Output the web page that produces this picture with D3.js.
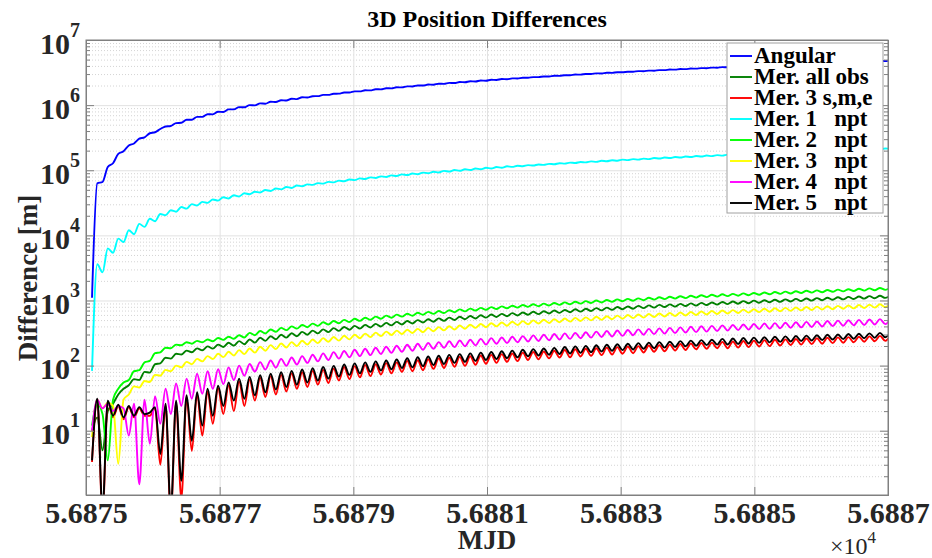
<!DOCTYPE html>
<html>
<head>
<meta charset="utf-8">
<title>3D Position Differences</title>
<style>

body {
  margin: 0;
  background: #fff;
}

svg, text {
  font-family: "Liberation Serif", "Times New Roman", serif;
  font-weight: bold;
}

.grid line {
  stroke: #e2e2e2;
}

.grid.minor line {
  stroke: #d4d4d4;
  stroke-dasharray: 1,2;
}

.axis line,
.axis path {
  stroke: #808080;
}

.series {
  fill: none;
  stroke-width: 1.9;
}

.legend text {
  white-space: pre;
}

</style>
<script src="https://d3js.org/d3.v7.min.js"></script>
</head>
<body>
<svg id="chart"></svg>
<script>

// sample times: one point every half oscillation
var mjdStart = 56875.09,
    mjdStep = 0.0786;

var angular = [1.1e3, 63e3, 66e3, 112e3, 128e3, 178e3, 196e3, 240e3, 258e3, 305e3,
  320e3, 370e3, 383e3, 430e3, 470e3, 478e3, 530e3, 535e3, 595e3, 597e3,
  660e3, 660e3, 725e3, 722e3, 790e3, 785e3, 860e3, 860e3, 930e3, 926e3,
  999e3, 990e3, 1063e3, 1052e3, 1127e3, 1114e3, 1191e3, 1175e3, 1255e3, 1237e3,
  1319e3, 1312e3, 1370e3, 1374e3, 1434e3, 1436e3, 1497e3, 1499e3, 1561e3, 1561e3,
  1624e3, 1623e3, 1688e3, 1685e3, 1751e3, 1748e3, 1815e3, 1810e3, 1878e3, 1872e3,
  1942e3, 1934e3, 2005e3, 1997e3, 2069e3, 2059e3, 2132e3, 2121e3, 2196e3, 2183e3,
  2259e3, 2246e3, 2323e3, 2308e3, 2386e3, 2370e3, 2450e3, 2432e3, 2513e3, 2495e3,
  2577e3, 2567e3, 2630e3, 2630e3, 2693e3, 2692e3, 2756e3, 2755e3, 2820e3, 2817e3,
  2883e3, 2880e3, 2946e3, 2942e3, 3009e3, 3005e3, 3073e3, 3067e3, 3136e3, 3130e3,
  3199e3, 3192e3, 3262e3, 3255e3, 3326e3, 3317e3, 3389e3, 3380e3, 3452e3, 3442e3,
  3515e3, 3505e3, 3579e3, 3567e3, 3642e3, 3630e3, 3705e3, 3692e3, 3768e3, 3755e3,
  3832e3, 3817e3, 3895e3, 3880e3, 3958e3, 3942e3, 4021e3, 4005e3, 4085e3, 4067e3,
  4148e3, 4130e3, 4211e3, 4192e3, 4274e3, 4255e3, 4338e3, 4317e3, 4401e3, 4380e3,
  4464e3, 4442e3, 4527e3, 4505e3, 4591e3, 4567e3, 4654e3, 4630e3, 4717e3, 4692e3,
  4781e3, 4755e3, 4844e3];

var merAllObs = [10, 16, 5, 20, 26, 36, 44, 50, 62, 60,
  80, 78, 105, 108, 132, 128, 152, 148, 170, 160,
  184, 172, 197, 182, 210, 193, 224, 203, 238, 213,
  252, 225, 268, 240, 283, 254, 298, 269, 314, 283,
  329, 298, 345, 312, 360, 327, 376, 341, 391, 356,
  407, 370, 422, 385, 438, 399, 453, 414, 469, 428,
  484, 443, 500, 458, 515, 472, 531, 487, 546, 501,
  562, 516, 577, 530, 593, 545, 608, 559, 623, 574,
  639, 588, 654, 603, 670, 617, 685, 632, 701, 646,
  716, 661, 732, 675, 747, 690, 763, 704, 778, 719,
  794, 733, 809, 748, 825, 762, 840, 777, 856, 792,
  871, 806, 887, 821, 902, 835, 918, 850, 933, 864,
  948, 879, 964, 893, 979, 908, 995, 922, 1010, 937,
  1026, 951, 1041, 966, 1057, 980, 1072, 995, 1088, 1009,
  1103, 1024, 1119, 1038, 1134, 1053, 1150, 1068, 1165, 1082,
  1181, 1097, 1196];

var mer3sme = [3.3, 30, 0.5, 28, 16, 24, 15, 23, 16, 22,
  17, 17, 22, 3, 24, 0.5, 27, 0.9, 32, 4.9,
  36, 8.4, 40, 12.8, 45, 18, 50, 20, 57, 24,
  61, 29, 65, 33, 69, 36, 72, 40, 76, 44,
  79, 47, 83, 51, 86, 54, 90, 59, 95, 62,
  98, 66, 102, 69, 105, 73, 109, 76, 112, 80,
  118, 82, 121, 85, 125, 89, 129, 92, 132, 96,
  136, 99, 139, 103, 143, 107, 146, 110, 150, 114,
  153, 117, 158, 122, 162, 125, 165, 129, 169, 133,
  174, 134, 178, 138, 181, 141, 185, 145, 189, 148,
  192, 152, 196, 155, 199, 159, 203, 163, 206, 166,
  210, 170, 215, 174, 218, 178, 222, 181, 225, 185,
  231, 185, 235, 189, 239, 192, 242, 196, 246, 199,
  249, 203, 253, 207, 256, 210, 260, 214, 263, 217,
  267, 221, 271, 224, 274, 228, 278, 232, 281, 236,
  286, 240, 289];

var mer1npt = [83, 3.6e3, 2.7e3, 6.3e3, 5.4e3, 8.9e3, 7.9e3, 12e3, 10.4e3, 15e3,
  13.5e3, 18e3, 16.5e3, 21.3e3, 20.4e3, 24.3e3, 23.1e3, 27.2e3, 25.7e3, 30.2e3,
  28.8e3, 32.7e3, 31.5e3, 35.6e3, 34.2e3, 38.5e3, 36.9e3, 41.4e3, 39.6e3, 44.3e3,
  42.7e3, 46.8e3, 45.4e3, 49.6e3, 48.1e3, 52.5e3, 50.8e3, 55.4e3, 53.5e3, 58.3e3,
  56.8e3, 60.6e3, 59.6e3, 63.4e3, 62.3e3, 66.3e3, 65.1e3, 69.2e3, 67.8e3, 72.0e3,
  70.6e3, 74.9e3, 73.3e3, 77.7e3, 76.0e3, 80.6e3, 78.8e3, 83.4e3, 81.5e3, 86.3e3,
  84.3e3, 89.1e3, 87.0e3, 92.0e3, 89.8e3, 94.9e3, 92.5e3, 97.7e3, 95.3e3, 100.6e3,
  98.0e3, 103.4e3, 100.7e3, 106.3e3, 103.5e3, 109.1e3, 106.2e3, 112.0e3, 109.0e3, 114.9e3,
  112.5e3, 116.9e3, 115.3e3, 119.7e3, 118.0e3, 122.6e3, 120.8e3, 125.4e3, 123.6e3, 128.2e3,
  126.3e3, 131.1e3, 129.1e3, 133.9e3, 131.9e3, 136.8e3, 134.6e3, 139.6e3, 137.4e3, 142.4e3,
  140.2e3, 145.3e3, 142.9e3, 148.1e3, 145.7e3, 150.9e3, 148.4e3, 153.8e3, 151.2e3, 156.6e3,
  154.0e3, 159.4e3, 156.7e3, 162.3e3, 159.5e3, 165.1e3, 162.3e3, 168.0e3, 165.0e3, 170.8e3,
  167.8e3, 173.6e3, 170.6e3, 176.5e3, 173.3e3, 179.3e3, 176.1e3, 182.1e3, 178.8e3, 185.0e3,
  181.6e3, 187.8e3, 184.4e3, 190.6e3, 187.1e3, 193.5e3, 189.9e3, 196.3e3, 192.7e3, 199.2e3,
  195.4e3, 202.0e3, 198.2e3, 204.8e3, 201.0e3, 207.7e3, 203.7e3, 210.5e3, 206.5e3, 213.3e3,
  209.2e3, 216.2e3, 212.0e3];

var mer2npt = [12, 26, 18, 3.5, 30, 44, 55, 60, 82, 85,
  112, 118, 155, 160, 188, 185, 210, 205, 228, 217,
  240, 228, 252, 236, 266, 248, 278, 258, 292, 270,
  318, 292, 339, 311, 359, 331, 380, 350, 400, 369,
  421, 389, 441, 408, 462, 428, 483, 447, 503, 467,
  524, 486, 544, 505, 565, 525, 585, 544, 606, 564,
  627, 583, 647, 603, 668, 622, 688, 641, 709, 661,
  730, 680, 750, 700, 771, 719, 791, 739, 812, 758,
  832, 777, 853, 797, 874, 816, 894, 836, 915, 855,
  935, 874, 956, 894, 976, 913, 997, 933, 1018, 952,
  1038, 972, 1059, 991, 1079, 1010, 1100, 1030, 1120, 1049,
  1141, 1069, 1162, 1088, 1182, 1108, 1203, 1127, 1223, 1146,
  1244, 1166, 1264, 1185, 1285, 1205, 1306, 1224, 1326, 1244,
  1347, 1263, 1367, 1282, 1388, 1302, 1408, 1321, 1429, 1341,
  1450, 1360, 1470, 1380, 1491, 1399, 1511, 1418, 1532, 1438,
  1552, 1457, 1573];

var mer3npt = [8, 30, 22, 27, 24, 3.1, 30, 36, 48, 46,
  58, 56, 72, 70, 86, 82, 100, 94, 114, 105,
  127, 116, 140, 126, 152, 135, 163, 143, 173, 150,
  183, 158, 195, 169, 206, 179, 218, 190, 229, 200,
  241, 211, 252, 221, 264, 232, 275, 242, 287, 253,
  298, 263, 310, 274, 321, 284, 333, 295, 344, 305,
  356, 316, 367, 326, 379, 337, 390, 347, 402, 358,
  413, 368, 425, 379, 436, 389, 448, 400, 459, 410,
  471, 421, 482, 431, 494, 442, 505, 452, 517, 463,
  528, 473, 540, 483, 551, 494, 563, 504, 574, 515,
  586, 525, 597, 536, 609, 546, 620, 557, 632, 567,
  643, 578, 655, 588, 666, 599, 678, 609, 689, 620,
  701, 630, 712, 641, 724, 651, 735, 662, 747, 672,
  758, 683, 770, 693, 781, 704, 793, 714, 804, 725,
  816, 735, 827, 746, 839, 756, 850, 767, 862, 777,
  874, 788, 885];

var mer4npt = [10, 30, 22, 26, 20, 24, 22, 8.4, 26, 1.5,
  30, 6.3, 34, 12.8, 44, 18, 53, 24, 63, 31,
  75, 37, 82, 44, 88, 52, 94, 60, 100, 70,
  106, 81, 113, 87, 120, 93, 127, 99, 133, 104,
  140, 110, 147, 116, 154, 122, 161, 128, 168, 134,
  175, 140, 181, 145, 188, 151, 195, 157, 202, 163,
  209, 169, 216, 175, 222, 181, 229, 187, 236, 192,
  243, 198, 250, 204, 257, 210, 264, 216, 270, 222,
  277, 228, 284, 234, 291, 239, 298, 245, 305, 251,
  312, 257, 318, 263, 325, 269, 332, 275, 339, 280,
  346, 286, 353, 292, 360, 298, 366, 304, 373, 310,
  380, 316, 387, 322, 394, 327, 401, 333, 407, 339,
  414, 345, 421, 351, 428, 357, 435, 363, 442, 368,
  449, 374, 455, 380, 462, 386, 469, 392, 476, 398,
  483, 404, 490, 410, 497, 415, 503, 421, 510, 427,
  517, 433, 524];

var mer5npt = [3.5, 31, 0.6, 29, 17, 25, 16, 24, 17, 23,
  18, 19, 23, 4.4, 26, 0.6, 29, 1.7, 35, 7,
  39, 12, 44, 17, 49, 24, 55, 29, 63, 31,
  67, 35, 71, 39, 75, 43, 79, 47, 83, 51,
  87, 55, 91, 59, 95, 63, 99, 68, 104, 72,
  108, 76, 112, 80, 116, 84, 120, 88, 124, 92,
  130, 94, 134, 98, 138, 102, 142, 106, 146, 110,
  150, 114, 154, 118, 158, 122, 162, 126, 166, 130,
  170, 134, 175, 139, 179, 143, 183, 147, 187, 151,
  193, 153, 197, 157, 201, 161, 205, 165, 209, 169,
  213, 173, 217, 177, 221, 181, 225, 185, 229, 189,
  233, 193, 238, 198, 242, 202, 246, 206, 250, 210,
  257, 211, 261, 215, 265, 219, 269, 223, 273, 227,
  277, 231, 281, 235, 285, 239, 289, 243, 293, 247,
  297, 251, 301, 255, 305, 259, 309, 263, 313, 268,
  318, 272, 322];

var seriesNames = ["Angular", "Mer. all obs", "Mer. 3 s,m,e", "Mer. 1   npt",
  "Mer. 2   npt", "Mer. 3   npt", "Mer. 4   npt", "Mer. 5   npt"];
var seriesColors = ["#0000ff", "#008000", "#ff0000", "#00ffff",
  "#00ff00", "#ffff00", "#ff00ff", "#000000"];
var seriesValues = [angular, merAllObs, mer3sme, mer1npt, mer2npt, mer3npt, mer4npt, mer5npt];

var xTicks = [56875, 56877, 56879, 56881, 56883, 56885, 56887];
var yTicks = [1e1, 1e2, 1e3, 1e4, 1e5, 1e6, 1e7];

var margin = {top: 40, right: 44, bottom: 63, left: 86},
    width = 932 - margin.left - margin.right,
    height = 558 - margin.top - margin.bottom;

var x = d3.scaleLinear()
    .domain([56875, 56887])
    .range([0, width]);

var y = d3.scaleLog()
    .domain([1.03, 1e7])
    .range([height, 0]);

var minorTicks = [];
yTicks.forEach(function(t) {
  for (var m = 2; m <= 9; m++) minorTicks.push(m * t / 10);
});

var svg = d3.select("#chart")
    .attr("width", 932)
    .attr("height", 558);

var g = svg.append("g")
    .attr("transform", "translate(" + margin.left + "," + margin.top + ")");

// grid
g.append("g")
    .attr("class", "grid minor")
    .call(d3.axisLeft(y).tickValues(minorTicks).tickSize(-width).tickFormat(""))
    .call(function(s) { s.select(".domain").remove(); });

g.append("g")
    .attr("class", "grid")
    .call(d3.axisLeft(y).tickValues(yTicks).tickSize(-width).tickFormat(""))
    .call(function(s) { s.select(".domain").remove(); });

g.append("g")
    .attr("class", "grid")
    .attr("transform", "translate(0," + height + ")")
    .call(d3.axisBottom(x).tickValues(xTicks).tickSize(-height).tickFormat(""))
    .call(function(s) { s.select(".domain").remove(); });

// series
g.append("clipPath")
    .attr("id", "clip")
  .append("rect")
    .attr("width", width)
    .attr("height", height);

var line = d3.line()
    .x(function(d, i) { return x(mjdStart + i * mjdStep); })
    .y(function(d) { return y(d); })
    .curve(d3.curveMonotoneX);

g.append("g")
    .attr("clip-path", "url(#clip)")
  .selectAll("path")
  .data(seriesValues)
  .enter().append("path")
    .attr("class", "series")
    .attr("stroke", function(d, i) { return seriesColors[i]; })
    .attr("d", line);

// axes, ticks pointing inwards
g.append("g")
    .attr("class", "axis")
    .call(d3.axisLeft(y).tickValues(minorTicks).tickSize(-4).tickFormat(""));
g.append("g")
    .attr("class", "axis")
    .attr("transform", "translate(" + width + ",0)")
    .call(d3.axisRight(y).tickValues(minorTicks).tickSize(-4).tickFormat(""));
g.append("g")
    .attr("class", "axis")
    .attr("transform", "translate(" + width + ",0)")
    .call(d3.axisRight(y).tickValues(yTicks).tickSize(-8).tickFormat(""));
g.append("g")
    .attr("class", "axis")
    .call(d3.axisTop(x).tickValues(xTicks).tickSize(-8).tickFormat(""));

var gy = g.append("g")
    .attr("class", "axis")
    .call(d3.axisLeft(y).tickValues(yTicks).tickSize(-8).tickFormat(""));

var ylab = gy.selectAll(".tick").append("text")
    .attr("x", -6)
    .attr("y", 13)
    .attr("fill", "#262626")
    .attr("text-anchor", "end")
    .style("font-size", "30px");
ylab.append("tspan").text("10");
ylab.append("tspan")
    .attr("dy", -17)
    .style("font-size", "20px")
    .text(function(d) { return Math.round(Math.log10(d)); });

var gx = g.append("g")
    .attr("class", "axis")
    .attr("transform", "translate(0," + height + ")")
    .call(d3.axisBottom(x).tickValues(xTicks).tickSize(-8)
        .tickFormat(function(d) { return (d / 1e4).toFixed(4); }));

gx.selectAll("text")
    .attr("y", 28)
    .attr("dy", null)
    .attr("fill", "#262626")
    .style("font-size", "30px");

g.append("rect")
    .attr("width", width)
    .attr("height", height)
    .attr("fill", "none")
    .attr("stroke", "#808080");

// labels
svg.append("text")
    .attr("x", margin.left + width / 2)
    .attr("y", 27)
    .attr("text-anchor", "middle")
    .style("font-size", "24px")
    .text("3D Position Differences");

svg.append("text")
    .attr("x", margin.left + width / 2)
    .attr("y", 549)
    .attr("text-anchor", "middle")
    .attr("fill", "#262626")
    .style("font-size", "27px")
    .text("MJD");

var exp = svg.append("text")
    .attr("x", 830)
    .attr("y", 554)
    .attr("fill", "#262626")
    .style("font-weight", "normal")
    .style("font-size", "24px");
exp.append("tspan").text("\u00d710");
exp.append("tspan").attr("dy", -11).style("font-size", "17px").text("4");

svg.append("text")
    .attr("transform", "translate(37,278) rotate(-90)")
    .attr("text-anchor", "middle")
    .attr("fill", "#262626")
    .style("font-size", "27px")
    .text("Difference [m]");

// legend
var legend = svg.append("g")
    .attr("class", "legend");

legend.append("rect")
    .attr("x", 727)
    .attr("y", 43)
    .attr("width", 156)
    .attr("height", 170)
    .attr("fill", "#fff")
    .attr("stroke", "#a0a0a0");

var item = legend.selectAll(".item")
    .data(seriesNames)
  .enter().append("g")
    .attr("class", "item")
    .attr("transform", function(d, i) { return "translate(730," + (56 + i * 21) + ")"; });

item.append("line")
    .attr("x2", 22)
    .attr("stroke-width", 1.9)
    .attr("stroke", function(d, i) { return seriesColors[i]; });

item.append("text")
    .attr("x", 24)
    .attr("y", 7)
    .style("font-size", "23px")
    .text(function(d) { return d; });

</script>
</body>
</html>
